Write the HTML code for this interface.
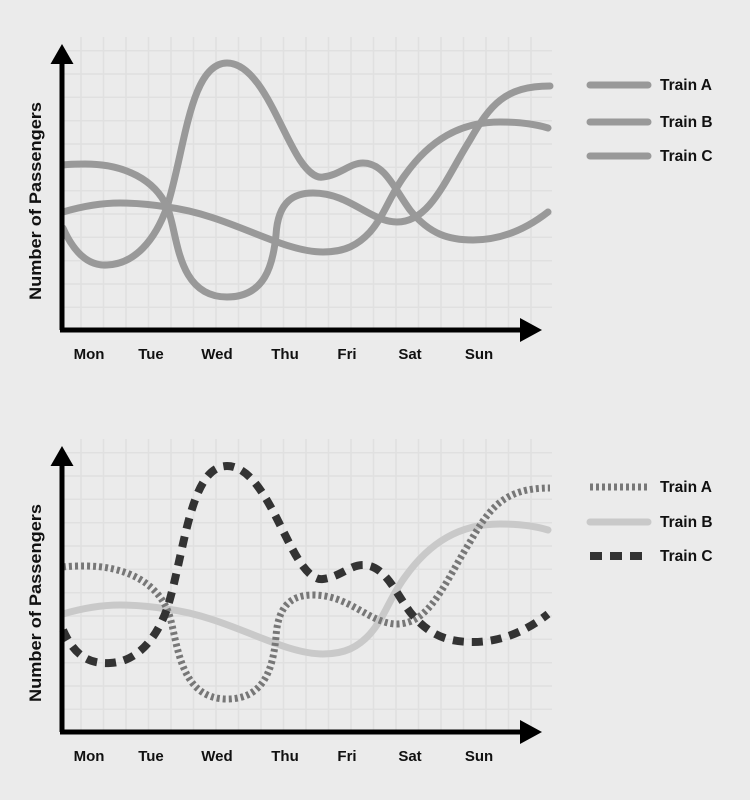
<!DOCTYPE html>
<html><head><meta charset="utf-8"><style>
html,body{margin:0;padding:0;background:#ebebeb;}
svg{display:block;}
text{font-family:"Liberation Sans",sans-serif;font-weight:bold;fill:#111;}
</style></head><body>
<svg width="750" height="800" viewBox="0 0 750 800" xmlns="http://www.w3.org/2000/svg">
<defs>
<g id="grid" stroke="#e0e0e0" stroke-width="1.5">
<path d="M81 37V330M103.5 37V330M126 37V330M148.5 37V330M171 37V330M193.5 37V330M216 37V330M238.5 37V330M261 37V330M283.5 37V330M306 37V330M328.5 37V330M351 37V330M373.5 37V330M396 37V330M418.5 37V330M441 37V330M463.5 37V330M486 37V330M508.5 37V330M531 37V330"/>
<path d="M62 50.7H552M62 74H552M62 97.3H552M62 120.7H552M62 144H552M62 167.3H552M62 190.7H552M62 214H552M62 237.3H552M62 260.7H552M62 284H552M62 307.3H552"/>
</g>
<g id="axes">
<path d="M62 330V58M60 330H525" stroke="#000" stroke-width="5" fill="none"/>
<polygon points="62,44 50.5,64 73.5,64" fill="#000"/>
<polygon points="542,330 520,318 520,342" fill="#000"/>
<text x="89" y="359" font-size="15" text-anchor="middle">Mon</text>
<text x="151" y="359" font-size="15" text-anchor="middle">Tue</text>
<text x="217" y="359" font-size="15" text-anchor="middle">Wed</text>
<text x="285" y="359" font-size="15" text-anchor="middle">Thu</text>
<text x="347" y="359" font-size="15" text-anchor="middle">Fri</text>
<text x="410" y="359" font-size="15" text-anchor="middle">Sat</text>
<text x="479" y="359" font-size="15" text-anchor="middle">Sun</text>
<text transform="translate(41,201) rotate(-90)" font-size="16.5" text-anchor="middle" textLength="198" lengthAdjust="spacingAndGlyphs">Number of Passengers</text>
</g>
</defs>
<!-- top chart -->
<use href="#grid"/>
<g fill="none" stroke="#999" stroke-width="7" stroke-linecap="round">
<path d="M63,228 C75,255 90,266 107,265 C135,264 155,240 167,207 C185,150 190,63 227,63 C260,63 280,130 300,160 C310,175 318,178 323,177 C340,175 350,163 363,163 C385,163 395,190 410,210 C430,235 450,240 473,240 C500,240 525,230 548,212"/>
<path d="M63,165 C70,164 78,164 85,164 C125,164 155,180 167,207 C178,230 175,297 227,297 C265,297 273,265 276,235 C278,200 295,193 313,193 C350,193 370,222 397,222 C430,222 445,180 470,140 C490,105 505,86 550,86"/>
<path d="M63,212 C90,204 110,203 120,203 C140,203 155,205 167,207 C230,215 280,252 323,252 C345,252 358,245 370,232 C385,215 390,195 405,175 C430,140 460,122 500,122 C520,122 535,124 548,128"/>
<path d="M590,85H648M590,122H648M590,156H648"/>
</g>
<use href="#axes"/>
<text x="660" y="90" font-size="15.5">Train A</text>
<text x="660" y="127" font-size="15.5">Train B</text>
<text x="660" y="161" font-size="15.5">Train C</text>
<!-- bottom chart -->
<g transform="translate(0,402)">
<use href="#grid"/>
<g fill="none" stroke-width="7">
<path stroke="#c9c9c9" stroke-linecap="round" d="M63,212 C90,204 110,203 120,203 C140,203 155,205 167,207 C230,215 280,252 323,252 C345,252 358,245 370,232 C385,215 390,195 405,175 C430,140 460,122 500,122 C520,122 535,124 548,128"/>
<path stroke="#777" stroke-dasharray="3,3" d="M63,165 C70,164 78,164 85,164 C125,164 155,180 167,207 C178,230 175,297 227,297 C265,297 273,265 276,235 C278,200 295,193 313,193 C350,193 370,222 397,222 C430,222 445,180 470,140 C490,105 505,86 550,86"/>
<path stroke="#333" stroke-width="8" stroke-dasharray="11,8" d="M63,228 C75,255 90,262 110,261 C135,260 155,240 167,207 C185,150 190,64 227,64 C260,64 280,130 300,160 C310,175 318,178 323,177 C340,175 350,163 363,163 C385,163 395,190 410,210 C430,235 450,240 473,240 C500,240 525,230 548,212"/>
<path stroke="#777" stroke-dasharray="3,3" d="M590,85H648"/>
<path stroke="#c9c9c9" stroke-linecap="round" d="M590,120H648"/>
<path stroke="#333" stroke-width="8" stroke-dasharray="12,8" d="M590,154H650"/>
</g>
<use href="#axes"/>
<text x="660" y="90" font-size="15.5">Train A</text>
<text x="660" y="125" font-size="15.5">Train B</text>
<text x="660" y="159" font-size="15.5">Train C</text>
</g>
</svg>
</body></html>
